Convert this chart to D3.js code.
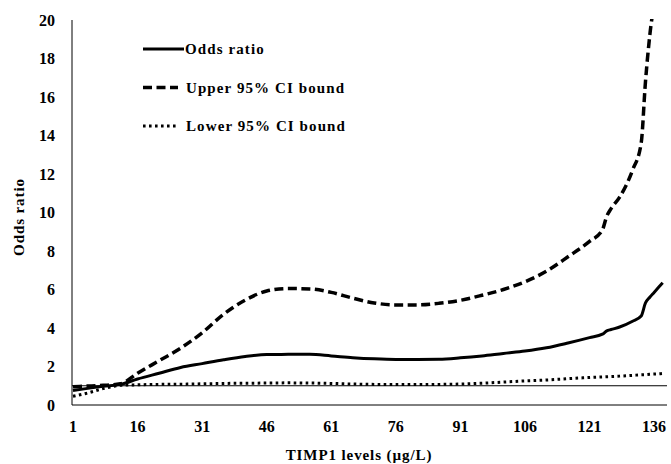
<!DOCTYPE html>
<html>
<head>
<meta charset="utf-8">
<script src="https://cdn.jsdelivr.net/npm/d3@7/dist/d3.min.js"></script>
<style>
  body { margin: 0; background: #fff; }
  text { font-family: "Liberation Serif", "Times New Roman", serif; font-weight: bold; fill: #000; }
</style>
</head>
<body>
<div id="svgDiv"></div>
<script>
var timp = [1, 4, 8, 12, 16, 21, 26, 31, 36, 41, 46, 51, 56, 61, 66, 71, 76, 81, 86, 91, 96, 101, 106, 111, 116, 121, 124, 125, 126, 128, 131, 133, 134, 135, 136, 137, 138];

var oddsRatio = [0.75, 0.85, 0.97, 1.07, 1.35, 1.65, 1.95, 2.15, 2.35, 2.52, 2.62, 2.63, 2.63, 2.55, 2.46, 2.4, 2.37, 2.37, 2.38, 2.45, 2.55, 2.68, 2.8, 2.97, 3.22, 3.5, 3.68, 3.85, 3.92, 4.05, 4.35, 4.62, 5.3, 5.6, 5.85, 6.1, 6.35];

var upperCI = [0.95, 0.98, 1.02, 1.1, 1.65, 2.3, 2.95, 3.75, 4.72, 5.45, 5.92, 6.05, 6.03, 5.85, 5.55, 5.3, 5.2, 5.2, 5.28, 5.44, 5.7, 6.0, 6.4, 6.95, 7.7, 8.5, 9.1, 9.8, 10.2, 10.8, 12.2, 13.6, 16.8, 19.2, 21, 23.5, 26];

var lowerCI = [0.45, 0.6, 0.85, 1.02, 1.05, 1.07, 1.08, 1.1, 1.12, 1.13, 1.14, 1.15, 1.14, 1.12, 1.09, 1.07, 1.06, 1.06, 1.07, 1.09, 1.13, 1.19, 1.25, 1.3, 1.37, 1.43, 1.46, 1.47, 1.48, 1.5, 1.54, 1.57, 1.58, 1.6, 1.61, 1.62, 1.64];

var xTicks = [1, 16, 31, 46, 61, 76, 91, 106, 121, 136];
var yTicks = [0, 2, 4, 6, 8, 10, 12, 14, 16, 18, 20];
var refValue = [1];

var seriesNames = ["Odds ratio", "Upper 95% CI bound", "Lower 95% CI bound"];
var seriesValues = [oddsRatio, upperCI, lowerCI];

var svgWidth = 671, svgHeight = 464;

var svg = d3.select("#svgDiv")
    .append("svg")
    .attr("width", svgWidth)
    .attr("height", svgHeight);

var xScale = d3.scaleLinear()
    .domain([1, 139])
    .range([73, 667]);

var yScale = d3.scaleLinear()
    .domain([0, 20])
    .range([405, 20]);

//line styles for solid / dashed / dotted
var styles = [
    { width: 3, dash: null },
    { width: 3.5, dash: "9,4.5" },
    { width: 3, dash: "2.6,3.4" }
];

svg.append("defs").append("clipPath")
    .attr("id", "plotClip")
    .append("rect")
    .attr("x", 72).attr("y", yScale(20) - 1)
    .attr("width", 600).attr("height", yScale(0) - yScale(20) + 4);

// axes lines (no tick marks)
svg.append("line")
    .attr("x1", 72).attr("x2", 72)
    .attr("y1", yScale(20)).attr("y2", yScale(0))
    .attr("stroke", "#000").attr("stroke-width", 1);

svg.append("line")
    .attr("x1", 72).attr("x2", xScale(139))
    .attr("y1", yScale(0)).attr("y2", yScale(0))
    .attr("stroke", "#000").attr("stroke-width", 1);

// reference line at odds ratio = 1
svg.selectAll(".refLine")
    .data(refValue)
    .enter().append("line")
    .attr("class", "refLine")
    .attr("x1", 72).attr("x2", xScale(139))
    .attr("y1", function(d){ return yScale(d); })
    .attr("y2", function(d){ return yScale(d); })
    .attr("stroke", "#000").attr("stroke-width", 1);

// tick labels
svg.selectAll(".yTick")
    .data(yTicks)
    .enter().append("text")
    .attr("class", "yTick")
    .attr("x", 55)
    .attr("y", function(d){ return yScale(d); })
    .attr("dy", "0.35em")
    .attr("text-anchor", "end")
    .style("font-size", "16px")
    .text(function(d){ return d; });

svg.selectAll(".xTick")
    .data(xTicks)
    .enter().append("text")
    .attr("class", "xTick")
    .attr("x", function(d){ return xScale(d); })
    .attr("y", 426)
    .attr("dy", "0.35em")
    .attr("text-anchor", "middle")
    .style("font-size", "16px")
    .text(function(d){ return d; });

// axis titles
svg.append("text")
    .attr("x", 359)
    .attr("y", 455)
    .attr("dy", "0.35em")
    .attr("text-anchor", "middle")
    .style("font-size", "15px")
    .style("letter-spacing", "0.9px")
    .text("TIMP1 levels (\u00b5g/L)");

svg.append("text")
    .attr("transform", "translate(19,217) rotate(-90)")
    .attr("dy", "0.35em")
    .attr("text-anchor", "middle")
    .style("font-size", "15px")
    .style("letter-spacing", "0.9px")
    .text("Odds ratio");

// curves
var line = d3.line()
    .x(function(d){ return xScale(d.x); })
    .y(function(d){ return yScale(d.y); })
    .curve(d3.curveMonotoneX);

var plot = svg.append("g").attr("clip-path", "url(#plotClip)");

seriesValues.forEach(function(vals, i){
    var pts = timp.map(function(t, j){ return { x: t, y: vals[j] }; });
    plot.append("path")
        .datum(pts)
        .attr("d", line)
        .attr("fill", "none")
        .attr("stroke", "#000")
        .attr("stroke-width", styles[i].width)
        .attr("stroke-dasharray", styles[i].dash)
        .attr("stroke-linejoin", "round");
});

// legend
var legend = svg.append("g");
seriesNames.forEach(function(name, i){
    var ly = 49 + i * 38.5;
    legend.append("line")
        .attr("x1", 143).attr("x2", i == 0 ? 184 : 178)
        .attr("y1", ly).attr("y2", ly)
        .attr("stroke", "#000")
        .attr("stroke-width", styles[i].width)
        .attr("stroke-dasharray", styles[i].dash);
    legend.append("text")
        .attr("x", i == 0 ? 185 : 186)
        .attr("y", ly)
        .attr("dy", "0.35em")
        .style("font-size", "15px")
        .style("letter-spacing", "1.1px")
        .text(name);
});
</script>
</body>
</html>
